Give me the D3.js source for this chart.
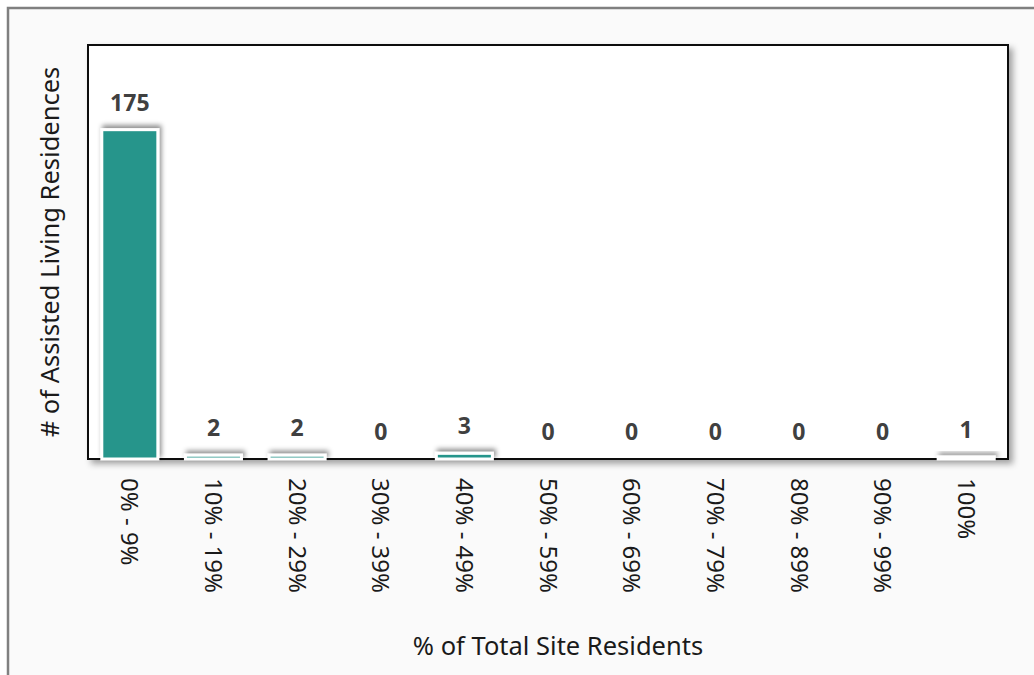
<!DOCTYPE html>
<html>
<head>
<meta charset="utf-8">
<script src="https://cdn.jsdelivr.net/npm/d3@7"></script>
<style>
  html, body { margin: 0; padding: 0; background: #ffffff; }
  svg { display: block; }
</style>
</head>
<body>
<svg id="chart" width="1034" height="675"></svg>
<script>
// Residence counts by share of total site residents
const categories = ["0% - 9%", "10% - 19%", "20% - 29%", "30% - 39%", "40% - 49%",
                    "50% - 59%", "60% - 69%", "70% - 79%", "80% - 89%", "90% - 99%", "100%"];
const residences = [175, 2, 2, 0, 3, 0, 0, 0, 0, 0, 1];
const yAxisTitle = "# of Assisted Living Residences";
const xAxisTitle = "% of Total Site Residents";

const W = 1034, H = 675;
const plot = { left: 88, top: 45, right: 1008, bottom: 459 };
const fontFamily = "'Noto Sans', 'Open Sans', sans-serif";

const svg = d3.select("#chart");

const defs = svg.append("defs");
const boxShadow = defs.append("filter").attr("id", "boxShadow")
  .attr("x", "-5%").attr("y", "-5%").attr("width", "115%").attr("height", "115%");
boxShadow.append("feDropShadow")
  .attr("dx", 4).attr("dy", 4).attr("stdDeviation", 3)
  .attr("flood-color", "#000").attr("flood-opacity", 0.35);

const barShadow = defs.append("filter").attr("id", "barShadow")
  .attr("x", "-30%").attr("y", "-300%").attr("width", "160%").attr("height", "600%");
barShadow.append("feDropShadow")
  .attr("dx", 2).attr("dy", -3).attr("stdDeviation", 2.5)
  .attr("flood-color", "#000").attr("flood-opacity", 0.45);

// Outer panel
svg.append("rect")
  .attr("x", 8).attr("y", 8).attr("width", W + 20).attr("height", H + 20)
  .attr("fill", "#fafafa").attr("stroke", "#808080").attr("stroke-width", 2.5);

// Plot area
svg.append("rect")
  .attr("x", plot.left).attr("y", plot.top)
  .attr("width", plot.right - plot.left).attr("height", plot.bottom - plot.top)
  .attr("fill", "#ffffff").attr("stroke", "#111").attr("stroke-width", 2)
  .attr("filter", "url(#boxShadow)");

const x = d3.scaleBand()
  .domain(categories)
  .range([plot.left, plot.right])
  .paddingInner(0.33).paddingOuter(0.165);

const y = d3.scaleLinear()
  .domain([0, 220])
  .range([plot.bottom, plot.top]);

const data = categories.map((c, i) => ({ cat: c, val: residences[i] }));

const gBars = svg.append("g");
gBars.selectAll("rect")
  .data(data.filter(d => d.val > 0))
  .join("rect")
  .attr("x", d => x(d.cat))
  .attr("y", d => y(d.val))
  .attr("width", x.bandwidth())
  .attr("height", d => y(0) - y(d.val))
  .attr("fill", "#27958b")
  .attr("stroke", "#ffffff")
  .attr("stroke-width", 3)
  .attr("filter", "url(#barShadow)");

// Value labels
svg.append("g").selectAll("text")
  .data(data)
  .join("text")
  .attr("x", d => x(d.cat) + x.bandwidth() / 2)
  .attr("y", d => y(d.val) - 27)
  .attr("dy", "0.35em")
  .attr("text-anchor", "middle")
  .attr("font-family", fontFamily)
  .attr("font-weight", "bold")
  .attr("font-size", 23)
  .attr("fill", "#404040")
  .text(d => d.val);

// Category axis (rotated labels)
const xAxis = svg.append("g")
  .attr("transform", `translate(0,${plot.bottom})`)
  .call(d3.axisBottom(x).tickSize(0).tickPadding(0));
xAxis.select(".domain").remove();
xAxis.selectAll(".tick text")
  .attr("transform", "translate(0,19) rotate(90)")
  .attr("x", 0).attr("y", 0).attr("dy", "0.35em")
  .attr("text-anchor", "start")
  .attr("font-family", fontFamily)
  .attr("font-size", 24)
  .attr("fill", "#1a1a1a");

// Axis titles
svg.append("text")
  .attr("transform", `translate(50,${(plot.top + plot.bottom) / 2}) rotate(-90)`)
  .attr("dy", "0.35em")
  .attr("text-anchor", "middle")
  .attr("font-family", fontFamily)
  .attr("font-size", 25.5)
  .attr("fill", "#1a1a1a")
  .text(yAxisTitle);

svg.append("text")
  .attr("x", 558).attr("y", 646)
  .attr("dy", "0.35em")
  .attr("text-anchor", "middle")
  .attr("font-family", fontFamily)
  .attr("font-size", 25.5)
  .attr("fill", "#1a1a1a")
  .text(xAxisTitle);
</script>
</body>
</html>
